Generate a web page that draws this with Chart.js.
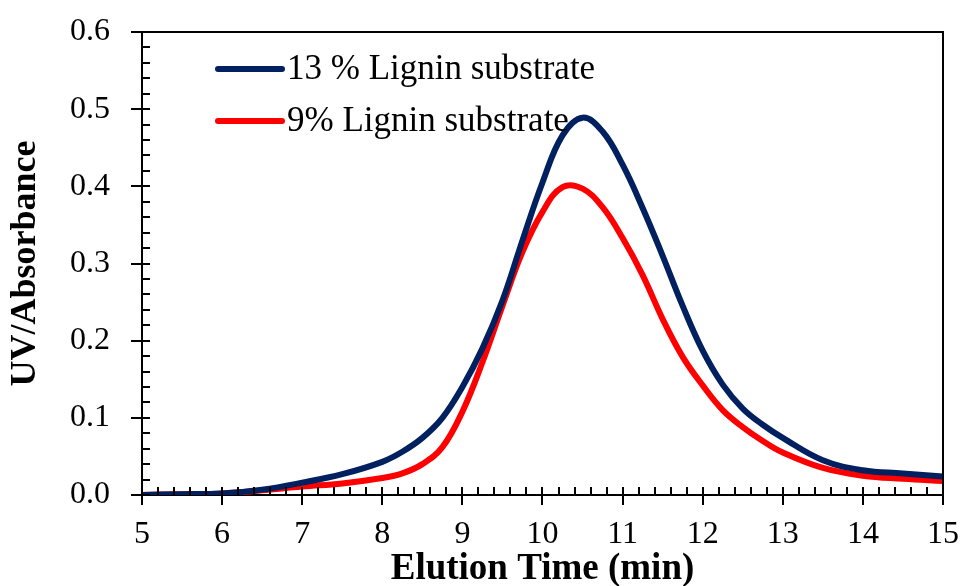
<!DOCTYPE html>
<html>
<head>
<meta charset="utf-8">
<script src="https://cdn.jsdelivr.net/npm/chart.js@4"></script>
<style>
  html, body { margin: 0; padding: 0; background: #fff; }
  #wrap { width: 960px; height: 586px; }
</style>
</head>
<body>
<div id="wrap"><canvas id="lineChart" width="960" height="586"></canvas></div>
<script>
// elution time (min)
const times = [5, 5.5, 6, 6.5, 7, 7.5, 8, 8.25, 8.5, 8.75, 9, 9.25, 9.5, 9.75, 10, 10.25, 10.5, 10.75, 11, 11.25, 11.5, 11.75, 12, 12.25, 12.5, 12.75, 13, 13.5, 14, 14.5, 15];
// 13 % lignin substrate
const lignin13 = [0.000, 0.001, 0.002, 0.007, 0.016, 0.027, 0.043, 0.056, 0.074, 0.100, 0.140, 0.190, 0.252, 0.330, 0.405, 0.466, 0.489, 0.471, 0.428, 0.372, 0.310, 0.245, 0.187, 0.143, 0.112, 0.091, 0.074, 0.045, 0.032, 0.028, 0.024];
// 9% lignin substrate
const lignin9 = [0.000, 0.001, 0.002, 0.006, 0.011, 0.015, 0.022, 0.028, 0.040, 0.062, 0.108, 0.172, 0.245, 0.315, 0.367, 0.399, 0.397, 0.373, 0.333, 0.285, 0.228, 0.179, 0.142, 0.110, 0.088, 0.070, 0.055, 0.035, 0.025, 0.021, 0.018];
const seriesLabels = ['13 % Lignin substrate', '9% Lignin substrate'];
const xTicks = [5, 6, 7, 8, 9, 10, 11, 12, 13, 14, 15];
const yTicks = [0, 0.1, 0.2, 0.3, 0.4, 0.5, 0.6];

Chart.defaults.font.family = "'Liberation Serif', 'Times New Roman', serif";
Chart.defaults.color = '#000';

const pts = arr => arr.map((v, i) => ({ x: times[i], y: v }));

// ticks crossing the axes, minor ticks pointing inward, plus box + legend
const framePlugin = {
  id: 'frame',
  afterDraw(chart) {
    const c = chart.ctx;
    const a = chart.chartArea;
    const xs = chart.scales.x, ys = chart.scales.y;
    c.save();
    c.strokeStyle = '#000';
    c.lineWidth = 2;
    c.beginPath();
    c.moveTo(a.left, a.top); c.lineTo(a.right, a.top); c.lineTo(a.right, a.bottom);
    c.stroke();
    c.beginPath();
    for (let v = 5; v <= 15.001; v += 0.2) {
      const px = Math.round(xs.getPixelForValue(v));
      const major = Math.abs(v - Math.round(v)) < 0.01;
      c.moveTo(px, a.bottom - 8);
      c.lineTo(px, major ? a.bottom + 10 : a.bottom);
    }
    for (let v = 0; v <= 0.6001; v += 0.02) {
      const py = Math.round(ys.getPixelForValue(v));
      const major = Math.abs(v * 10 - Math.round(v * 10)) < 0.01;
      c.moveTo(major ? a.left - 11 : a.left, py);
      c.lineTo(a.left + 8, py);
    }
    c.stroke();

    // legend
    chart.data.datasets.forEach((ds, i) => {
      const y = a.top + 37 + i * 52;
      c.strokeStyle = ds.borderColor;
      c.lineWidth = 6;
      c.lineCap = 'round';
      c.beginPath();
      c.moveTo(a.left + 76, y);
      c.lineTo(a.left + 140, y);
      c.stroke();
      c.fillStyle = '#000';
      c.font = "35px 'Liberation Serif'";
      c.textBaseline = 'middle';
      c.fillText(ds.label, a.left + 145, y + 1);
    });
    c.restore();
  }
};

const noPad = s => { s.paddingLeft = 0; s.paddingRight = 0; s.paddingTop = 0; s.paddingBottom = 0; };

const ctx = document.getElementById('lineChart').getContext('2d');
new Chart(ctx, {
  type: 'line',
  data: {
    datasets: [{
      label: seriesLabels[0],
      data: pts(lignin13),
      borderColor: '#002060',
      borderWidth: 6,
      pointRadius: 0,
      tension: 0.4,
      fill: false
    }, {
      label: seriesLabels[1],
      data: pts(lignin9),
      borderColor: '#ff0000',
      borderWidth: 6,
      pointRadius: 0,
      tension: 0.4,
      fill: false
    }]
  },
  options: {
    responsive: false,
    animation: false,
    layout: { padding: { left: 0, top: 32, right: 17, bottom: 0 } },
    plugins: { legend: { display: false }, tooltip: { enabled: false } },
    scales: {
      x: {
        type: 'linear',
        min: 5,
        max: 15,
        afterBuildTicks: s => { s.ticks = xTicks.map(v => ({ value: v })); },
        afterFit: s => { s.height = 91; noPad(s); },
        grid: { display: false, drawTicks: false },
        border: { display: true, color: '#000', width: 2 },
        ticks: { font: { size: 32 }, padding: 20, maxRotation: 0 },
        title: {
          display: true,
          text: 'Elution Time (min)',
          font: { size: 37, weight: 'bold', lineHeight: 1 },
          padding: { top: 0, bottom: -2 }
        }
      },
      y: {
        min: 0,
        max: 0.6,
        afterBuildTicks: s => { s.ticks = yTicks.map(v => ({ value: v })); },
        afterFit: s => { s.width = 142; noPad(s); },
        grid: { display: false, drawTicks: false },
        border: { display: true, color: '#000', width: 2 },
        ticks: { font: { size: 32 }, padding: 32, callback: v => v.toFixed(1) },
        title: {
          display: true,
          text: 'UV/Absorbance',
          font: { size: 36, weight: 'bold', lineHeight: 1 },
          padding: { top: 8, bottom: 0 }
        }
      }
    }
  },
  plugins: [framePlugin]
});
</script>
</body>
</html>
